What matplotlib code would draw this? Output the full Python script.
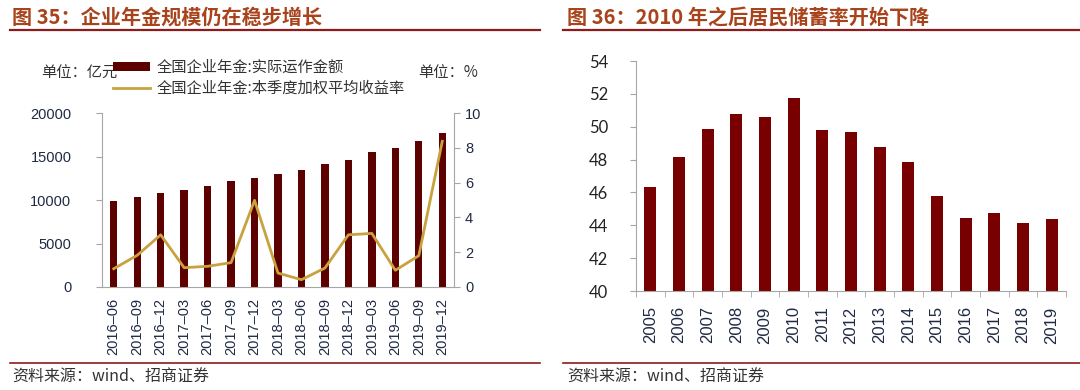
import matplotlib
matplotlib.use("Agg")
import matplotlib.pyplot as plt
from matplotlib.lines import Line2D
from matplotlib.patches import Patch

plt.rcParams['font.family'] = ['Noto Sans CJK SC', 'DejaVu Sans']

# ---------- data ----------
quarters = ["2016–06", "2016–09", "2016–12", "2017–03", "2017–06", "2017–09", "2017–12",
            "2018–03", "2018–06", "2018–09", "2018–12", "2019–03", "2019–06", "2019–09", "2019–12"]
assets = [9900, 10350, 10750, 11200, 11650, 12180, 12570, 13030, 13490, 14100, 14560,
          15480, 16000, 16780, 17740]
returns = [1.05, 1.82, 3.0, 1.11, 1.19, 1.4, 4.98, 0.8, 0.42, 1.09, 3.0, 3.08, 0.96, 1.8, 8.37]

years = ["2005", "2006", "2007", "2008", "2009", "2010", "2011", "2012", "2013", "2014",
         "2015", "2016", "2017", "2018", "2019"]
saving = [46.35, 48.14, 49.86, 50.77, 50.61, 51.77, 49.80, 49.70, 48.79, 47.83,
          45.76, 44.43, 44.73, 44.16, 44.36]

title1 = "图 35：企业年金规模仍在稳步增长"
title2 = "图 36：2010 年之后居民储蓄率开始下降"
source = "资料来源：wind、招商证券"
leg1 = "全国企业年金:实际运作金额"
leg2 = "全国企业年金:本季度加权平均收益率"

W, H = 1080, 390
fig = plt.figure(figsize=(W / 100, H / 100), dpi=100)

def ax_px(x0, y0, x1, y1):
    return fig.add_axes([x0 / W, 1 - y1 / H, (x1 - x0) / W, (y1 - y0) / H])

def fx(x): return x / W
def fy(y): return 1 - y / H

title_color = '#A8431C'
rule_color = '#8E1B1B'
tick_color = '#1F2A44'
spine_color = '#A6A6A6'
text_color = '#333333'

# headers and footers
fig.text(fx(12), fy(17), title1, color=title_color, fontsize=14.5, fontweight='bold', va='center')
fig.text(fx(567), fy(17), title2, color=title_color, fontsize=14.5, fontweight='bold', va='center')
fig.add_artist(Line2D([fx(10), fx(540)], [fy(30), fy(30)], color=rule_color, lw=1.6))
fig.add_artist(Line2D([fx(563), fx(1080)], [fy(30), fy(30)], color=rule_color, lw=1.6))
fig.add_artist(Line2D([fx(10), fx(540)], [fy(363), fy(363)], color=rule_color, lw=1.2))
fig.add_artist(Line2D([fx(563), fx(1080)], [fy(363), fy(363)], color=rule_color, lw=1.2))
fig.text(fx(12), fy(377), source, color=text_color, fontsize=11.5, va='center')
fig.text(fx(567), fy(377), source, color=text_color, fontsize=11.5, va='center')

# ---------- left chart ----------
ax = ax_px(102, 113, 454, 287)
x = list(range(len(quarters)))
ax.bar(x, assets, width=0.31, color='#5C0000', zorder=2)
ax.set_xlim(-0.5, len(quarters) - 0.5)
ax.set_ylim(0, 20000)
ax.set_yticks([0, 5000, 10000, 15000, 20000])
ax.set_xticks(x)
ax.set_xticklabels(quarters, rotation=90, family=['Liberation Sans'], fontsize=10.5, color=tick_color)
ax.tick_params(axis='x', length=0, pad=8)
ax.tick_params(axis='y', colors=spine_color, length=4, labelcolor=tick_color, labelsize=10.5, pad=18)
for lab in ax.get_yticklabels():
    lab.set_family(['Liberation Sans'])
for s in ['top', 'right']:
    ax.spines[s].set_visible(False)
ax.spines['left'].set_color(spine_color)
ax.spines['bottom'].set_color(spine_color)

ax2 = ax.twinx()
ax2.plot(x, returns, color='#C9A23F', lw=2.0, zorder=3)
ax2.set_ylim(0, 10)
ax2.set_yticks([0, 2, 4, 6, 8, 10])
ax2.tick_params(axis='y', colors=spine_color, length=4, labelcolor=tick_color, labelsize=10.5, pad=4)
for lab in ax2.get_yticklabels():
    lab.set_family(['Liberation Sans'])
for s in ['top', 'left', 'bottom']:
    ax2.spines[s].set_visible(False)
ax2.spines['right'].set_color(spine_color)

fig.text(fx(41), fy(73), "单位：亿元", fontsize=11, color=text_color, va='center')
fig.text(fx(478), fy(73), "单位：%", fontsize=11, color=text_color, va='center', ha='right')
fig.legend(handles=[Patch(facecolor='#5C0000', label=leg1),
                    Line2D([0], [0], color='#C9A23F', lw=2.0, label=leg2)],
           loc='upper left', bbox_to_anchor=(fx(113), fy(59)), frameon=False,
           fontsize=11, handlelength=2.4, handleheight=0.5, handletextpad=0.45,
           labelspacing=0.25, borderaxespad=0, borderpad=0, labelcolor=text_color)

# ---------- right chart ----------
bx = ax_px(636, 61, 1066, 291)
xr = list(range(len(years)))
bx.bar(xr, saving, width=0.42, color='#780000', zorder=2)
bx.set_xlim(-0.5, len(years) - 0.5)
bx.set_ylim(40, 54)
bx.set_yticks(range(40, 55, 2))
bx.set_xticks(xr)
bx.set_xticklabels(years, rotation=90, family=['Liberation Sans'], fontsize=12, color=tick_color)
bx.set_xticks([i - 0.5 for i in range(len(years) + 1)], minor=True)
bx.tick_params(axis='x', which='major', length=0, pad=11)
bx.tick_params(axis='x', which='minor', length=4, color=spine_color)
bx.tick_params(axis='y', colors=spine_color, length=4, labelcolor='#222222', labelsize=12, pad=16)
for lab in bx.get_yticklabels():
    lab.set_family(['Lato'])
for s in ['top', 'right']:
    bx.spines[s].set_visible(False)
bx.spines['left'].set_color(spine_color)
bx.spines['bottom'].set_color(spine_color)

fig.savefig("out.png", dpi=100)
